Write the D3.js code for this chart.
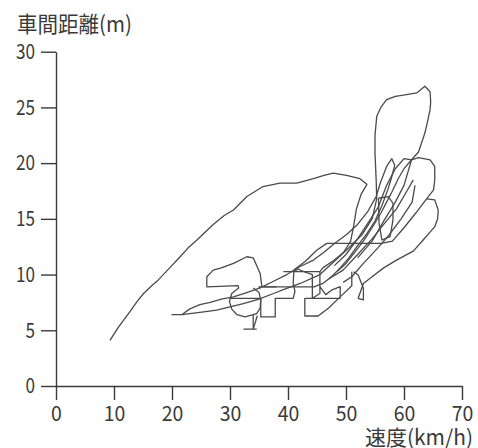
<!DOCTYPE html>
<html>
<head>
<meta charset="utf-8">
<script src="https://cdn.jsdelivr.net/npm/d3@7"></script>
<style>
  body { margin: 0; background: #fff; }
  svg { display: block; }
</style>
</head>
<body>
<div id="chart"></div>
<script>
// speed (km/h) vs headway (m) as [speed, gap] pairs

// long upper sweep
const run1 = [[9.3,4.1],[10.8,5.3],[12.5,6.5],[14.0,7.6],[15.1,8.3],[16.5,9.0],[17.6,9.5],[19.6,10.6],[21.4,11.6],[22.8,12.4],[24.3,13.1],[27.1,14.5],[29.0,15.3],[30.6,15.8],[32.9,17.0],[35.7,17.9],[38.6,18.2],[41.5,18.2],[44.4,18.6],[46.2,18.9],[47.8,19.1],[50.1,18.9],[52.4,18.6],[53.6,18.1],[52.6,17.2],[51.8,15.9],[51.3,14.3],[50.8,13.0],[49.6,12.0],[48.0,11.3],[46.0,10.6],[45.5,10.26],[39.2,10.26]];

// start at lower left, upper diagonal, spike
const run2 = [[19.9,6.4],[21.7,6.4],[23.0,6.9],[24.8,7.3],[26.6,7.5],[28.5,7.8],[30.6,8.0],[33.0,8.4],[35.2,8.8],[37.5,9.4],[39.8,10.0],[42.0,10.7],[44.4,11.3],[46.2,12.0],[47.8,12.7],[50.1,13.6],[52.0,14.5],[53.8,15.7],[55.2,17.0],[55.9,18.2],[57.0,19.7],[57.9,20.4],[58.4,19.8],[57.8,18.6],[57.2,17.6],[56.2,16.2],[55.0,14.8],[53.5,13.6],[52.0,12.6],[50.5,11.5],[49.0,10.6],[47.5,9.8],[46.0,9.2],[44.5,8.9],[34.9,8.9]];

// lower diagonal up into the tall loop
const run3 = [[21.7,6.4],[24.8,6.6],[27.7,6.8],[30.0,7.1],[32.3,7.4],[35.0,7.8],[37.5,8.3],[40.0,8.8],[42.1,9.2],[45.5,10.0],[48.0,11.2],[50.5,12.4],[52.8,13.6],[54.5,15.0],[55.3,16.8],[55.2,18.5],[55.0,20.9],[55.0,22.5],[55.3,24.2],[56.0,25.0],[57.0,25.7],[58.5,26.0],[59.9,26.1],[62.2,26.3],[63.6,26.9],[64.5,26.4],[64.6,25.5],[64.5,24.8],[64.0,23.6],[63.6,22.7],[62.5,21.0],[61.3,20.3],[60.0,19.5],[59.0,18.6],[58.0,17.5],[57.0,16.5],[56.0,15.5],[54.5,14.2],[53.0,13.0],[51.5,12.0],[50.0,11.0],[48.5,10.3]];

// left loop and the round loop below it
const run4 = [[38.0,8.9],[35.5,8.9],[35.2,10.1],[34.0,11.5],[32.9,11.6],[30.6,11.0],[28.5,10.6],[27.1,10.4],[26.0,9.8],[26.0,8.9],[31.4,9.0],[31.5,8.8],[30.3,8.3],[29.9,7.6],[30.3,6.9],[31.2,6.4],[32.6,6.2],[34.0,6.4],[34.6,6.5],[35.2,7.0],[35.3,7.7],[35.0,8.4],[34.0,8.8]];

// small dip down to 5 m
const run5 = [[34.7,6.3],[34.3,5.6],[34.0,5.1],[32.4,5.1],[34.6,5.1]];
const run6 = [[34.0,6.4],[34.0,5.1]];

// stepped part in the middle
const run7 = [[30.0,7.87],[35.3,7.87],[35.3,6.2],[37.8,6.2],[37.8,7.87],[40.9,7.87],[41.2,8.5],[40.9,9.2],[41.0,10.26],[41.8,10.5],[42.5,10.3],[44.2,10.0],[44.2,7.87],[45.5,8.3],[45.5,10.26],[45.5,8.91],[46.5,8.2],[47.5,8.6],[49.0,8.91],[49.0,7.87],[42.9,7.87],[42.9,6.28],[45.2,6.28],[47.0,7.0],[49.0,8.0],[51.0,9.0],[51.0,10.26]];

// two right loops and the small loop at the bottom right
const run8 = [[52.0,11.5],[54.5,13.0],[56.5,14.8],[58.5,16.5],[60.0,18.0],[61.3,20.3],[62.5,20.5],[64.5,20.3],[65.3,19.7],[65.3,18.5],[65.1,17.6],[63.9,16.8],[65.3,16.7],[65.9,15.8],[65.8,15.0],[65.3,14.3],[64.3,13.7],[63.3,13.1],[61.6,12.1],[58.7,11.3],[56.5,10.6],[54.5,9.8],[53.0,9.2],[52.1,7.87],[53.0,7.72],[53.0,8.77],[52.1,9.96],[51.3,10.26]];

// extra strands inside the cluster
const run9 = [[63.9,16.8],[62.0,15.5],[60.0,14.2],[58.0,13.0],[56.1,12.8],[46.7,12.8],[45.0,12.2],[43.0,11.2],[41.0,10.4]];
const run10 = [[55.6,16.85],[57.3,17.0],[58.1,16.4],[58.1,14.9],[57.6,13.4],[56.2,13.1],[55.7,14.6],[55.6,16.85]];
const run11 = [[61.9,18.0],[61.4,16.5],[59.5,15.0],[57.5,13.6],[55.5,12.4],[53.0,11.0],[51.0,9.8],[49.5,9.3]];
const run12 = [[48.0,10.8],[50.0,11.8],[52.0,13.2],[54.0,14.8],[55.5,16.0],[57.0,18.0],[58.5,19.5],[60.0,20.4],[61.3,20.3]];
const run13 = [[47.0,9.6],[49.5,10.4],[52.0,11.8],[54.5,13.2],[56.5,14.5],[58.7,15.9],[60.5,17.5],[61.6,18.5]];

const runs = [run1, run2, run3, run4, run5, run6, run7, run8, run9, run10, run11, run12, run13];

const xTicks = [0, 10, 20, 30, 40, 50, 60, 70];
const yTicks = [0, 5, 10, 15, 20, 25, 30];
const yTitle = "車間距離(m)";
const xTitle = "速度(km/h)";

const width = 478, height = 448;
const font = "'Noto Sans CJK JP', 'Liberation Sans', sans-serif";

const svg = d3.select("#chart")
  .append("svg")
  .attr("width", width)
  .attr("height", height);

const x = d3.scaleLinear().domain([0, 70]).range([56, 462]);
const y = d3.scaleLinear().domain([0, 30]).range([386, 51.7]);

// y axis
const gy = svg.append("g")
  .attr("transform", "translate(56,0)")
  .call(d3.axisLeft(y).tickValues(yTicks).tickSize(15).tickSizeOuter(0).tickPadding(6));

// x axis
const gx = svg.append("g")
  .attr("transform", "translate(0,386)")
  .call(d3.axisBottom(x).tickValues(xTicks).tickSize(14).tickSizeOuter(0).tickPadding(6));

svg.selectAll(".domain, .tick line")
  .attr("stroke", "#3a3a3a")
  .attr("stroke-width", 1.4);

gy.selectAll(".tick text")
  .attr("font-family", font)
  .attr("font-size", 21)
  .attr("fill", "#3a3a3a")
  .attr("textLength", d => String(d).length * 9.5)
  .attr("lengthAdjust", "spacingAndGlyphs");

gx.selectAll(".tick text")
  .attr("font-family", font)
  .attr("font-size", 21)
  .attr("fill", "#3a3a3a")
  .attr("textLength", d => String(d).length * 10.8)
  .attr("lengthAdjust", "spacingAndGlyphs");

// axis titles
svg.append("text")
  .attr("x", 17)
  .attr("y", 32)
  .attr("font-family", font)
  .attr("font-size", 22)
  .attr("fill", "#3a3a3a")
  .attr("textLength", 115)
  .attr("lengthAdjust", "spacingAndGlyphs")
  .text(yTitle);

svg.append("text")
  .attr("x", 473)
  .attr("y", 445)
  .attr("text-anchor", "end")
  .attr("font-family", font)
  .attr("font-size", 21)
  .attr("fill", "#3a3a3a")
  .attr("textLength", 108)
  .attr("lengthAdjust", "spacingAndGlyphs")
  .text(xTitle);

// trajectories
const line = d3.line()
  .x(d => x(d[0]))
  .y(d => y(d[1]));

svg.append("g")
  .selectAll("path")
  .data(runs)
  .join("path")
  .attr("d", line)
  .attr("fill", "none")
  .attr("stroke", "#4a4a4a")
  .attr("stroke-width", 1.3)
  .attr("stroke-linejoin", "round");
</script>
</body>
</html>
